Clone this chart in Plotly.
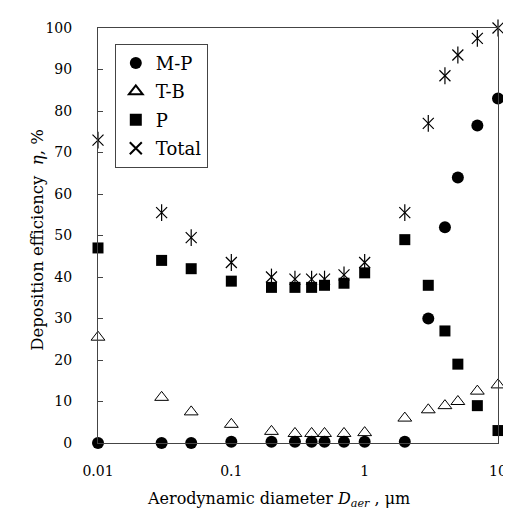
import plotly.graph_objects as go

diameters = [0.01, 0.03, 0.05, 0.1, 0.2, 0.3, 0.4, 0.5, 0.7, 1, 2, 3, 4, 5, 7, 10]
mp_values = [0, 0, 0, 0.3, 0.3, 0.3, 0.3, 0.3, 0.3, 0.3, 0.3, 30, 52, 64, 76.5, 83]
tb_values = [25.5, 11, 7.5, 4.5, 2.8, 2.3, 2.3, 2.3, 2.3, 2.5, 6, 8, 9, 10, 12.5, 14]
p_values = [47, 44, 42, 39, 37.5, 37.5, 37.5, 38, 38.5, 41, 49, 38, 27, 19, 9, 3]
total_values = [73, 55.5, 49.5, 43.5, 40, 39.5, 39.5, 39.5, 40.5, 43.5, 55.5, 77, 88.5, 93.5, 97.5, 100]

x_tick_vals = [0.01, 0.1, 1, 10]
x_tick_text = ["0.01", "0.1", "1", "10"]
y_tick_vals = [0, 10, 20, 30, 40, 50, 60, 70, 80, 90, 100]

x_title = "Aerodynamic diameter <i>D<sub>aer</sub></i> , μm"
y_title = "Deposition efficiency  <i>η</i>, %"

FONT = "DejaVu Serif"
AX = "#444444"

fig = go.Figure()
fig.add_trace(go.Scatter(x=diameters, y=mp_values, mode="markers", name="M-P",
                         legendgroup="a",
                         marker=dict(symbol="circle", size=12, color="black"),
                         cliponaxis=False))
fig.add_trace(go.Scatter(x=diameters, y=tb_values, mode="markers", name="T-B",
                         legendgroup="b",
                         marker=dict(symbol="triangle-up-open", size=12, color="black",
                                     line=dict(width=1, color="black")),
                         cliponaxis=False))
fig.add_trace(go.Scatter(x=diameters, y=p_values, mode="markers", name="P",
                         legendgroup="c",
                         marker=dict(symbol="square", size=11, color="black"),
                         cliponaxis=False))
fig.add_trace(go.Scatter(x=diameters, y=total_values, mode="markers", name="Total",
                         legendgroup="d",
                         marker=dict(symbol="x-thin-open", size=11, color="black",
                                     line=dict(width=1.2, color="black")),
                         cliponaxis=False))
fig.add_trace(go.Scatter(x=diameters, y=total_values, mode="markers", showlegend=False,
                         legendgroup="d",
                         marker=dict(symbol="line-ns-open", size=12, color="black",
                                     line=dict(width=1.2, color="black")),
                         cliponaxis=False, hoverinfo="skip"))

fig.update_layout(
    width=511, height=512,
    margin=dict(l=90, r=14, t=18, b=77),
    paper_bgcolor="white", plot_bgcolor="white",
    font=dict(family=FONT, size=14, color="black"),
    showlegend=True,
    legend=dict(x=0.042, y=0.962, xanchor="left", yanchor="top",
                bgcolor="white", bordercolor=AX, borderwidth=1,
                font=dict(family=FONT, size=18, color="black"),
                itemsizing="constant", itemwidth=30, tracegroupgap=2),
    annotations=[
        dict(text=x_title, xref="paper", yref="paper", x=0.451, y=-0.105,
             xanchor="center", yanchor="top", showarrow=False,
             font=dict(family=FONT, size=16, color="black")),
        dict(text=y_title, xref="paper", yref="paper", x=-0.152, y=0.49,
             xanchor="center", yanchor="middle", textangle=-90, showarrow=False,
             font=dict(family=FONT, size=16.5, color="black")),
    ],
)
fig.update_xaxes(
    type="log", range=[-2, 1],
    tickvals=x_tick_vals, ticktext=x_tick_text,
    showgrid=False, zeroline=False,
    showline=True, linecolor=AX, linewidth=1, mirror=True,
    ticks="", ticklabelstandoff=15,
    tickfont=dict(family=FONT, size=14, color="black"),
)
fig.update_yaxes(
    range=[0, 100],
    tickvals=y_tick_vals,
    showgrid=False, zeroline=False,
    showline=True, linecolor=AX, linewidth=1, mirror=True,
    ticks="inside", ticklen=5, tickcolor=AX,
    ticklabelstandoff=22,
    tickfont=dict(family=FONT, size=14, color="black"),
)

fig.write_html("out.html")
